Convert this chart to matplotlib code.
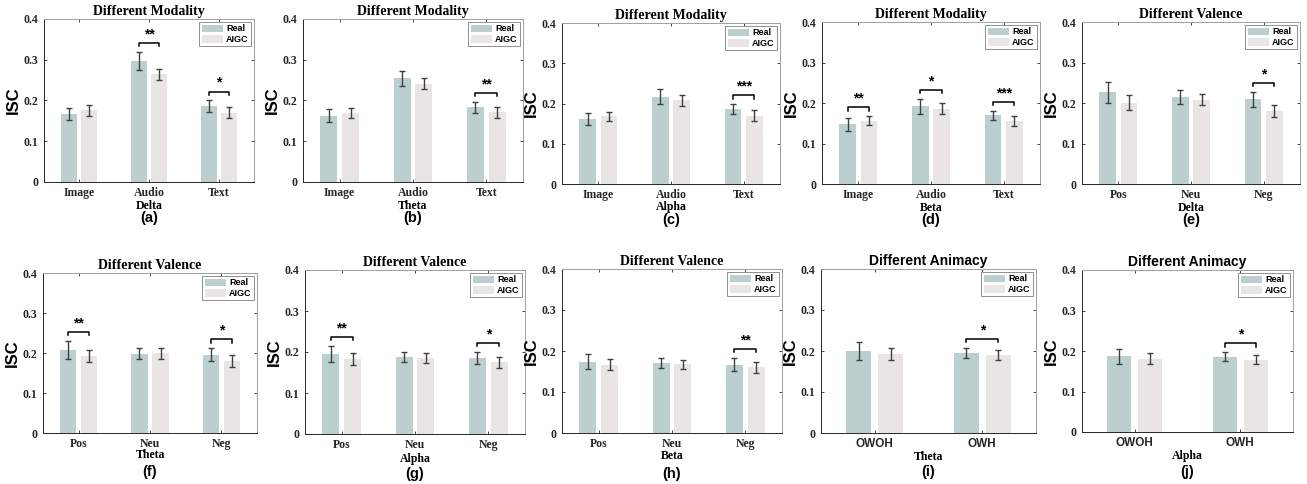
import matplotlib
matplotlib.use("Agg")
import matplotlib.pyplot as plt
import matplotlib.transforms as mtrans
import numpy as np

# ---- data ----
modality = ["Image", "Audio", "Text"]
valence = ["Pos", "Neu", "Neg"]
animacy = ["OWOH", "OWH"]

a_real = [0.167, 0.297, 0.186]
a_real_err = [0.015, 0.022, 0.014]
a_aigc = [0.176, 0.264, 0.170]
a_aigc_err = [0.014, 0.014, 0.014]
a_sig = ["", "**", "*"]

b_real = [0.163, 0.254, 0.183]
b_real_err = [0.016, 0.019, 0.013]
b_aigc = [0.169, 0.241, 0.171]
b_aigc_err = [0.013, 0.013, 0.013]
b_sig = ["", "", "**"]

c_real = [0.161, 0.217, 0.186]
c_real_err = [0.015, 0.018, 0.012]
c_aigc = [0.168, 0.208, 0.170]
c_aigc_err = [0.012, 0.013, 0.013]
c_sig = ["", "", "***"]

d_real = [0.147, 0.192, 0.170]
d_real_err = [0.015, 0.018, 0.011]
d_aigc = [0.156, 0.186, 0.155]
d_aigc_err = [0.011, 0.013, 0.013]
d_sig = ["**", "*", "***"]

e_real = [0.226, 0.215, 0.209]
e_real_err = [0.025, 0.017, 0.019]
e_aigc = [0.201, 0.208, 0.181]
e_aigc_err = [0.018, 0.014, 0.015]
e_sig = ["", "", "*"]

f_real = [0.208, 0.198, 0.196]
f_real_err = [0.022, 0.014, 0.016]
f_aigc = [0.192, 0.199, 0.179]
f_aigc_err = [0.015, 0.013, 0.015]
f_sig = ["**", "", "*"]

g_real = [0.195, 0.188, 0.185]
g_real_err = [0.020, 0.012, 0.015]
g_aigc = [0.183, 0.186, 0.175]
g_aigc_err = [0.015, 0.012, 0.013]
g_sig = ["**", "", "*"]

h_real = [0.174, 0.170, 0.167]
h_real_err = [0.019, 0.012, 0.016]
h_aigc = [0.167, 0.168, 0.160]
h_aigc_err = [0.014, 0.011, 0.013]
h_sig = ["", "", "**"]

i_real = [0.200, 0.196]
i_real_err = [0.021, 0.012]
i_aigc = [0.192, 0.190]
i_aigc_err = [0.015, 0.013]
i_sig = ["", "*"]

j_real = [0.187, 0.186]
j_real_err = [0.019, 0.011]
j_aigc = [0.181, 0.179]
j_aigc_err = [0.014, 0.011]
j_sig = ["", "*"]

SERIF = "Liberation Serif"
SANS = "Liberation Sans"
REAL_C = "#bccfcf"
AIGC_C = "#e9e5e5"

W, H = 1307, 484
fig = plt.figure(figsize=(W / 100, H / 100), dpi=100)


def make_ax(l, r, t, b):
    return fig.add_axes([l / W, 1 - b / H, (r - l) / W, (b - t) / H])


def below(ax, px):
    # axes-bottom-centre shifted down by px pixels
    return ax.transAxes + mtrans.ScaledTranslation(0, -px / 100,
                                                    fig.dpi_scale_trans)


def panel(box, cats, real, real_err, aigc, aigc_err, sig, title, band, letter,
          band_dy=24, letter_dy=36, title_font=SERIF, tick_font=SERIF):
    ax = make_ax(*box)
    x = np.arange(1, len(cats) + 1)
    w, off = 0.23, 0.148
    ax.bar(x - off, real, w, color=REAL_C, label="Real", zorder=2)
    ax.bar(x + off, aigc, w, color=AIGC_C, label="AIGC", zorder=2)
    ax.errorbar(x - off, real, yerr=real_err, fmt="none", ecolor="#404040",
                elinewidth=1, capsize=2.5, capthick=1, zorder=3)
    ax.errorbar(x + off, aigc, yerr=aigc_err, fmt="none", ecolor="#404040",
                elinewidth=1, capsize=2.5, capthick=1, zorder=3)
    for k, s in enumerate(sig):
        if not s:
            continue
        top = max(real[k] + real_err[k], aigc[k] + aigc_err[k])
        y = top + 0.022
        x0, x1 = x[k] - off, x[k] + off
        ax.plot([x0, x0, x1, x1], [y - 0.008, y, y, y - 0.008], color="black",
                lw=1.1, zorder=3)
        ax.text(x[k], y + 0.004, s, ha="center", va="bottom", fontsize=10,
                fontweight="bold", family=SANS)
    ax.set_xlim(0.5, len(cats) + 0.5)
    ax.set_ylim(0, 0.4)
    ax.set_xticks(x)
    ax.set_xticklabels(cats, family=tick_font, fontweight="bold", fontsize=8.5)
    ax.set_yticks([0, 0.1, 0.2, 0.3, 0.4])
    ax.set_yticklabels(["0", "0.1", "0.2", "0.3", "0.4"], family=SERIF,
                       fontweight="bold", fontsize=8.5)
    ax.tick_params(direction="in", length=2.5, width=0.6, top=True, right=True,
                   colors="#262626")
    ax.tick_params(axis="x", pad=3.5)
    ax.tick_params(axis="y", pad=4)
    for sp in ["top", "right"]:
        ax.spines[sp].set_color("#a0a0a0")
    for sp in ["left", "bottom"]:
        ax.spines[sp].set_color("#262626")
    for sp in ax.spines.values():
        sp.set_linewidth(0.7)
    ax.set_ylabel("ISC", family=SANS, fontweight="bold", fontsize=12,
                  labelpad=2)
    ax.set_title(title, family=title_font, fontweight="bold", fontsize=10,
                 pad=3)
    ax.set_xlabel(band, family=SERIF, fontweight="bold", fontsize=8.5)
    ax.xaxis.set_label_coords(0.5, -band_dy / (box[3] - box[2]))
    ax.xaxis.label.set_va("center")
    ax.text(0.5, 0, letter, transform=below(ax, letter_dy), ha="center",
            va="center", family=SANS, fontweight="bold", fontsize=10.5)
    leg = ax.legend(loc="upper right", prop={"family": SANS, "weight": "bold",
                                              "size": 6.5},
                    handlelength=2.4, handleheight=0.9, handletextpad=0.3,
                    borderpad=0.25, labelspacing=0.2, borderaxespad=0.35,
                    fancybox=False, framealpha=1)
    leg.get_frame().set_edgecolor("#909090")
    leg.get_frame().set_linewidth(0.7)
    return ax


panel((44, 254, 19, 182), modality, a_real, a_real_err, a_aigc, a_aigc_err,
      a_sig, "Different Modality", "Delta", "(a)")
panel((303, 523, 19, 182), modality, b_real, b_real_err, b_aigc, b_aigc_err,
      b_sig, "Different Modality", "Theta", "(b)")
panel((562, 780, 23, 184), modality, c_real, c_real_err, c_aigc, c_aigc_err,
      c_sig, "Different Modality", "Alpha", "(c)", band_dy=23)
panel((822, 1040, 22, 184), modality, d_real, d_real_err, d_aigc, d_aigc_err,
      d_sig, "Different Modality", "Beta", "(d)", band_dy=24)
panel((1082, 1300, 22, 184), valence, e_real, e_real_err, e_aigc, e_aigc_err,
      e_sig, "Different Valence", "Delta", "(e)", band_dy=24)
panel((43, 257, 273, 433), valence, f_real, f_real_err, f_aigc, f_aigc_err,
      f_sig, "Different Valence", "Theta", "(f)", band_dy=22, letter_dy=39)
panel((305, 525, 270, 434), valence, g_real, g_real_err, g_aigc, g_aigc_err,
      g_sig, "Different Valence", "Alpha", "(g)", band_dy=25, letter_dy=40)
panel((562, 782, 269, 433), valence, h_real, h_real_err, h_aigc, h_aigc_err,
      h_sig, "Different Valence", "Beta", "(h)", band_dy=23, letter_dy=41)
panel((821, 1036, 269, 433), animacy, i_real, i_real_err, i_aigc, i_aigc_err,
      i_sig, "Different Animacy", "Theta", "(i)", band_dy=24, letter_dy=39,
      title_font=SANS, tick_font=SANS)
panel((1082, 1293, 270, 432), animacy, j_real, j_real_err, j_aigc, j_aigc_err,
      j_sig, "Different Animacy", "Alpha", "(j)", band_dy=24, letter_dy=40,
      title_font=SANS, tick_font=SANS)

fig.savefig("out.png", dpi=100)
